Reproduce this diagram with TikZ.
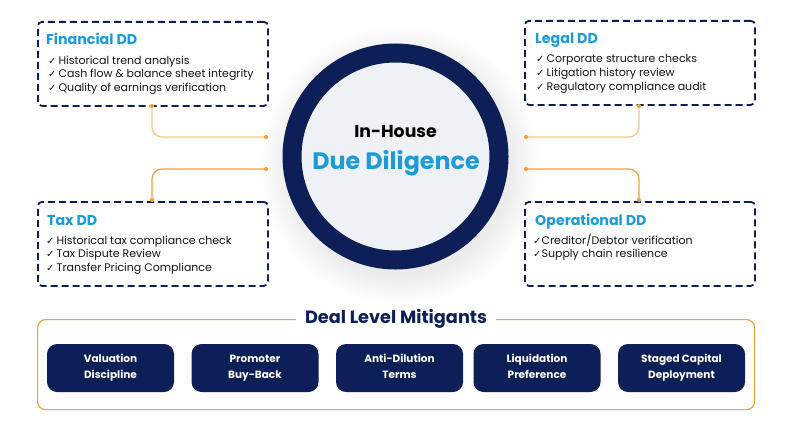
\documentclass[tikz,border=0pt]{standalone}
\usepackage{fontspec}
\setmainfont{Poppins}
\newfontfamily\sym{DejaVu Sans}
\definecolor{navy}{HTML}{0C1F56}
\definecolor{ddblue}{HTML}{1B9BD8}
\definecolor{org}{HTML}{F5A03E}
\definecolor{lorg}{HTML}{FBC583}
\definecolor{hubfill}{HTML}{EEF2F7}
\newcommand{\chk}{{\sym\fontsize{10}{9}\selectfont ✓}\hspace{2pt}}
\newcommand{\btxt}[2]{#1\vphantom{Apg}\\#2\vphantom{Apg}}
\begin{document}
\begin{tikzpicture}[x=1pt,y=-1pt,
  ddbox/.style={draw=navy, line width=1.8pt, dash pattern=on 7pt off 4pt, rounded corners=4pt, fill=white, anchor=north west, minimum width=230pt, minimum height=84pt, inner sep=0pt},
  ddtitle/.style={anchor=base west, inner sep=0pt, font=\fontsize{14.2}{15}\selectfont\bfseries, text=ddblue},
  item/.style={anchor=base west, inner sep=0pt, font=\fontsize{11}{12}\selectfont, text=black!92},
  conn/.style={line width=1.2pt, rounded corners=10pt},
  dot/.style={circle, inner sep=0pt, minimum size=4.2pt, fill=org},
  btn/.style={fill=navy, rounded corners=10pt, minimum width=127pt, minimum height=48pt, inner sep=0pt, align=center, text=white, font=\fontsize{10.5}{16}\selectfont\bfseries}
]
\useasboundingbox[fill=white] (0,0) rectangle (791,420);

% soft shadow
\foreach \r in {112,113.5,...,140} \fill[black, fill opacity=0.0045] (400,165) circle (\r pt);

% hub
\node[circle, draw=navy, line width=19pt, fill=hubfill, minimum size=207pt, inner sep=0pt] (hub) at (395.5,156.5) {};
\node[anchor=base, inner sep=0pt, font=\fontsize{17.3}{18}\selectfont\bfseries] (hubt1) at (395.5,137) {In-House};
\node[anchor=base, inner sep=0pt, font=\fontsize{23.8}{24}\selectfont\bfseries, text=ddblue] (hubt2) at (396,169) {Due Diligence};

% boxes
\node[ddbox] (fin) at (37,21) {};
\node[ddbox] (leg) at (524,20) {};
\node[ddbox] (tax) at (37,201) {};
\node[ddbox] (ops) at (524,201) {};

% Financial
\node[ddtitle] (fint) at (46,45) {Financial DD};
\node[item] (fin1) at (48,64) {\chk Historical trend analysis};
\node[item] (fin2) at (48,77.5) {\chk Cash flow \& balance sheet integrity};
\node[item] (fin3) at (48,91) {\chk Quality of earnings verification};

% Legal
\node[ddtitle] (legt) at (535,44) {Legal DD};
\node[item] (leg1) at (536,63) {\chk Corporate structure checks};
\node[item] (leg2) at (536,76.5) {\chk Litigation history review};
\node[item] (leg3) at (536,90) {\chk Regulatory compliance audit};

% Tax
\node[ddtitle] (taxt) at (47,225) {Tax DD};
\node[item] (tax1) at (46,244) {\chk Historical tax compliance check};
\node[item] (tax2) at (46,257.5) {\chk Tax Dispute Review};
\node[item] (tax3) at (46,271) {\chk Transfer Pricing Compliance};

% Operational
\node[ddtitle] (opst) at (535,225) {Operational DD};
\node[item] (ops1) at (533,244) {\chk\hspace{-2pt}Creditor/Debtor verification};
\node[item] (ops2) at (533,257.5) {\chk\hspace{-2pt}Supply chain resilience};

% connectors
\coordinate (fa) at (152,106); \coordinate (fb) at (266,137);
\coordinate (ta) at (266,169); \coordinate (tb) at (152,200);
\coordinate (la) at (639,106); \coordinate (lb) at (526,137);
\coordinate (oa) at (526,169); \coordinate (ob) at (639,200);
\draw[conn, lorg] (fa) |- (fb);
\draw[conn, org] (ta) -| (tb);
\draw[conn, lorg] (la) |- (lb);
\draw[conn, org] (oa) -| (ob);
\foreach \p in {fa,fb,ta,tb,la,lb,oa,ob} \node[dot] (d\p) at (\p) {};

% Deal level mitigants
\node[draw=org, line width=1.2pt, rounded corners=8pt, minimum width=717pt, minimum height=90pt, anchor=north west, inner sep=0pt] (frame) at (37,319) {};
\node[fill=white, inner xsep=9pt, inner ysep=2pt, font=\fontsize{17.7}{18}\selectfont\bfseries, text=navy] (dlm) at (396,319) {Deal Level Mitigants};

\node[btn] (b1) at (110.5,368) {\btxt{Valuation}{Discipline}};
\node[btn] (b2) at (255,368) {\btxt{Promoter}{Buy-Back}};
\node[btn] (b3) at (399.5,368) {\btxt{Anti-Dilution}{Terms}};
\node[btn] (b4) at (537,368) {\btxt{Liquidation}{Preference}};
\node[btn] (b5) at (681.5,368) {\btxt{Staged Capital}{Deployment}};
\end{tikzpicture}
\end{document}
